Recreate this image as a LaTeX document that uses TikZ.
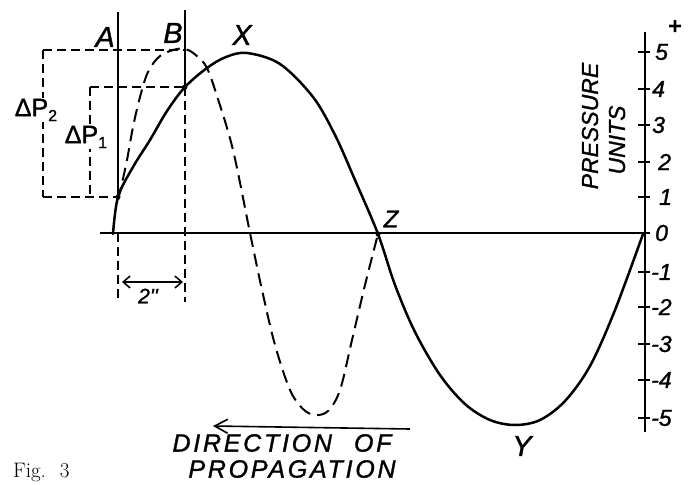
\documentclass[tikz,border=0pt]{standalone}
\usepackage{fontspec}
\usepackage{graphicx}
\newfontfamily\hand{Liberation Sans}[UprightFeatures={FakeBold=1.2}, ItalicFeatures={FakeBold=1.2}]
\usetikzlibrary{arrows.meta}
\begin{document}
\begin{tikzpicture}[x=1pt,y=-1pt,
  curve/.style={line width=2.5pt, line cap=round, line join=round},
  dashcurve/.style={line width=2pt, dash pattern=on 13pt off 7pt},
  guide/.style={line width=1.4pt, dash pattern=on 9pt off 5pt},
  axisline/.style={line width=1.8pt},
  ruler/.style={line width=1.6pt},
  tickline/.style={line width=1.4pt},
  lbl/.style={font=\hand\itshape\fontsize{29}{29}\selectfont, inner sep=0pt},
  smalllbl/.style={font=\hand\itshape\fontsize{23}{23}\selectfont, inner sep=0pt},
  num/.style={font=\hand\itshape\fontsize{23}{23}\selectfont, inner sep=0pt, anchor=west},
  wordlbl/.style={font=\hand\itshape\fontsize{25}{25}\selectfont\addfontfeature{LetterSpace=11}, inner sep=0pt},
  dot/.style={circle, fill=black, inner sep=0pt, minimum size=5pt},
]
\fill[white] (0,0) rectangle (695,484);
\useasboundingbox (0,0) rectangle (695,484);

% key points
\coordinate (O) at (100,233);
\coordinate (E) at (645,233);
\coordinate (Atop) at (118,12);
\coordinate (Apt) at (118,197);
\coordinate (Aax) at (118,233);
\coordinate (Abot) at (118,302);
\coordinate (Btop) at (185,10);
\coordinate (Bpt) at (185,87);
\coordinate (Bbot) at (185,302);
\coordinate (Tl) at (43,50);
\coordinate (Tr) at (185,50);
\coordinate (Ml) at (90,87);
\coordinate (Bl) at (43,197);
\coordinate (Mb) at (90,197);
\coordinate (Vtop) at (645,32);
\coordinate (Vbot) at (645,432);
\coordinate (Dr) at (410,429);
\coordinate (Dl) at (213,426);
\coordinate (Wl) at (122,282);
\coordinate (Wr) at (183,282);

% horizontal axis and right scale
\draw[axisline] (O) -- (E);
\draw[axisline] (Vtop) -- (Vbot);
\foreach \yy in {52,89,125,162,197,233,272,307,344,380,418}
  \draw[tickline] (638,\yy) -- (650,\yy);

% guides
\draw[guide] (Tl) -- (Tr);
\draw[guide] (Ml) -- (Bpt);
\draw[guide] (Bl) -- (Apt);
\draw[guide] (Tl) -- (Bl);
\draw[guide] (Ml) -- (Mb);
\draw[guide] (Bpt) -- (Bbot);
\draw[guide] (Aax) -- (Abot);

% solid verticals A and B
\draw[ruler] (Atop) -- (Apt);
\draw[ruler] (Btop) -- (Bpt);

% solid wave
\draw[curve] plot[smooth, tension=0.55] coordinates {(113,234) (118,197) (133,167) (150,140) (167,111) (185,87) (207,68) (226,57) (247,53) (280,64) (313,97) (335,135) (355,180) (378,234) (395,285) (415,332) (440,375) (465,404) (490,420) (515,425) (540,420) (565,401) (590,366) (615,310) (643,234)};

% dashed wave
\draw[dashcurve] plot[smooth, tension=0.55] coordinates {(118,200) (122,183) (127,160) (133,127) (140,97) (148,72) (160,56) (177,49) (188,50) (198,57) (207,68) (217,96) (233,150) (250,233) (262,290) (275,345) (290,390) (303,409) (315,415) (328,411) (340,390) (352,340) (365,285) (378,234)};

% dots
\node[dot] (dA) at (Apt) {};
\node[dot] (dB) at (Bpt) {};
\node[dot] (dZ) at (378,234) {};

% dimension arrow
\draw[line width=1.5pt, {Straight Barb[length=7pt,width=12pt]}-{Straight Barb[length=7pt,width=12pt]}] (Wl) -- (Wr);
\node[font=\hand\itshape\fontsize{21}{21}\selectfont, inner sep=0pt] (two) at (148,296) {2''};

% direction arrow
\draw[line width=1.6pt, -{Straight Barb[length=13pt,width=14pt]}] (Dr) -- (Dl);
\node[wordlbl] (dir) at (282,443) {DIRECTION\hspace{22pt}OF};
\node[wordlbl] (prop) at (292,469) {PROPAGATION};

% letters
\node[lbl] (lA) at (105,37) {A};
\node[lbl] (lB) at (173,33) {B};
\node[lbl] (lX) at (242,35) {X};
\node[font=\hand\itshape\fontsize{24}{24}\selectfont, inner sep=0pt] (lZ) at (391,219) {Z};
\node[lbl] (lY) at (522,446) {Y};

% delta P labels
\node[font=\hand\fontsize{25}{25}\selectfont, fill=white, inner sep=1pt] (dp2) at (36,110) {ΔP\raisebox{-5pt}{\fontsize{16}{16}\selectfont 2}};
\node[font=\hand\fontsize{25}{25}\selectfont, fill=white, inner sep=1pt] (dp1) at (86,137) {ΔP\raisebox{-5pt}{\fontsize{16}{16}\selectfont 1}};

% scale numbers
\node[num] (n5) at (655,52) {5};
\node[num] (n4) at (652,89) {4};
\node[num] (n3) at (652,125) {3};
\node[num] (n2) at (658,162) {2};
\node[num] (n1) at (659,197) {1};
\node[num] (n0) at (655,233) {0};
\node[num] (m1) at (651,272) {-1};
\node[num] (m2) at (651,307) {-2};
\node[num] (m3) at (651,344) {-3};
\node[num] (m4) at (651,380) {-4};
\node[num] (m5) at (651,418) {-5};
\node[font=\hand\bfseries\fontsize{24}{24}\selectfont, inner sep=0pt] (plus) at (675,27) {+};

% axis title
\node[smalllbl, rotate=90] (press) at (590,126) {PRESSURE};
\node[smalllbl, rotate=90] (units) at (617,140) {UNITS};

% caption
\node[font=\fontsize{21}{21}\selectfont, inner sep=0pt, anchor=base west] (fig) at (13,477) {Fig.\hspace{14pt}3};
\end{tikzpicture}
\end{document}
